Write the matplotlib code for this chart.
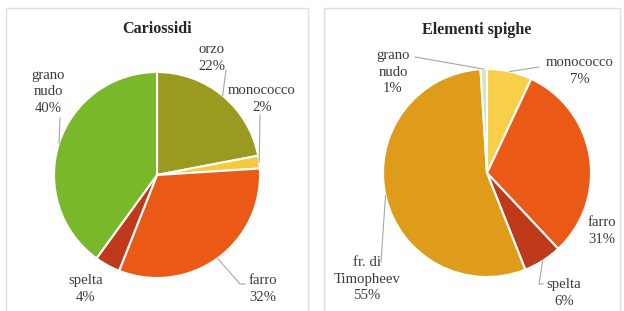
import numpy as np
import matplotlib
matplotlib.use("Agg")
import matplotlib.pyplot as plt
from matplotlib.patches import Rectangle

plt.rcParams['font.family'] = ['Liberation Serif', 'DejaVu Serif']

W, H = 624, 311

# -----------------------------
# dati
# -----------------------------
car_labels = ["orzo", "monococco", "farro", "spelta", "grano\nnudo"]
car_values = [22, 2, 32, 4, 40]
car_colors = ["#9b9a20", "#f5c940", "#ea5916", "#bf3a1b", "#79b82a"]

spi_labels = ["monococco", "farro", "spelta", "fr. di\nTimopheev", "grano\nnudo"]
spi_values = [7, 31, 6, 55, 1]
spi_colors = ["#f8cf48", "#ea5916", "#bf3a1b", "#df9c1b", "#d6e4bd"]

# posizioni etichette (pixel immagine) e inizio linee guida
car_text = [(212, 58), (262, 99), (263, 289), (86, 289), (48, 92)]
car_lead = [[(226, 70)], [(260, 115)], [(245, 284), (240, 284)], None, [(60, 118)]]
spi_text = [(580, 71), (602, 231), (564, 293), (367, 279), (393, 72)]
spi_lead = [[(539, 67)], None, [(543, 284), (539, 284)], [(381, 262)], [(415, 57)]]


def px_ax(cx, cy, r):
    return [(cx - r) / W, (H - cy - r) / H, 2 * r / W, 2 * r / H]


fig = plt.figure(figsize=(W / 100, H / 100), dpi=100)

# cornici dei due pannelli
for x0, x1 in [(6, 308), (324, 620)]:
    fig.patches.append(Rectangle((x0 / W, -0.05), (x1 - x0) / W, (H - 8) / H + 0.05,
                                 transform=fig.transFigure, fill=False,
                                 edgecolor="#dedede", linewidth=1))


def draw_pie(cx, cy, r, values, labels, colors, texts, leads, title, tpos):
    ax = fig.add_axes(px_ax(cx, cy, r))
    ax.pie(values, colors=colors, startangle=90, counterclock=False,
           radius=1, wedgeprops=dict(edgecolor="white", linewidth=1.5))
    ax.set_xlim(-1, 1)
    ax.set_ylim(-1, 1)
    ax.set_aspect("equal")
    ax.axis("off")

    tot = sum(values)
    cum = np.cumsum([0] + list(values))
    for i, (lab, v) in enumerate(zip(labels, values)):
        tx, ty = texts[i]
        fig.text(tx / W, 1 - ty / H, f"{lab}\n{v}%", ha="center", va="center",
                 fontsize=10.6, color="#3c3c3c", linespacing=1.35)
        if leads[i] is not None:
            mid = (cum[i] + v / 2) / tot * 2 * np.pi
            ex, ey = cx + r * np.sin(mid), cy - r * np.cos(mid)
            pts = leads[i] + [(ex, ey)]
            xs = [p[0] / W for p in pts]
            ys = [1 - p[1] / H for p in pts]
            fig.add_artist(plt.Line2D(xs, ys, color="#a6a6a6", linewidth=0.8,
                                      transform=fig.transFigure))
    fig.text(tpos[0] / W, 1 - tpos[1] / H, title, ha="center", va="center",
             fontsize=11.6, fontweight="bold", color="#262626")


draw_pie(157, 175, 103, car_values, car_labels, car_colors, car_text, car_lead,
         "Cariossidi", (157, 29))
draw_pie(487, 173, 104, spi_values, spi_labels, spi_colors, spi_text, spi_lead,
         "Elementi spighe", (477, 30))

fig.savefig("out.png", dpi=100, facecolor="white")
